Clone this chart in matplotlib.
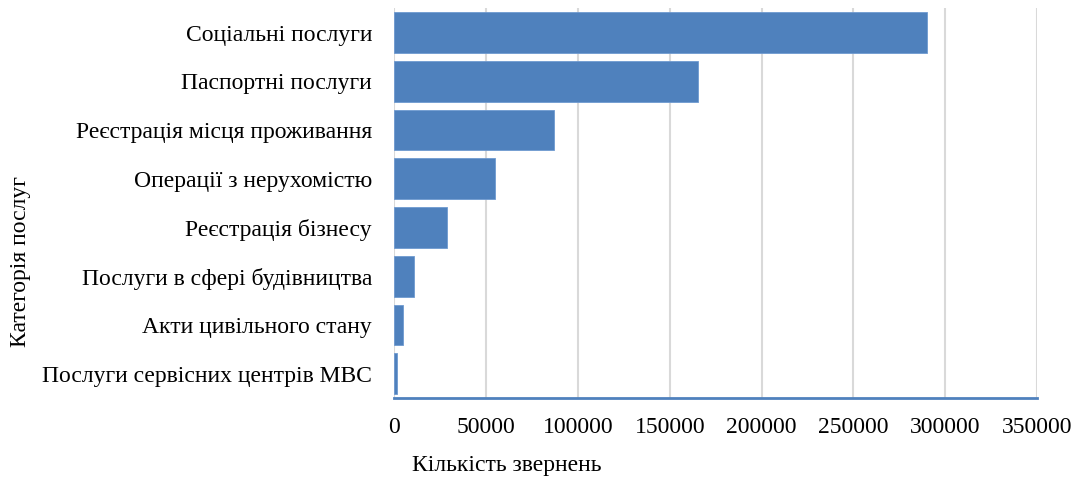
import matplotlib.pyplot as plt
import matplotlib

matplotlib.rcParams['font.family'] = 'Liberation Serif'

# Категорії послуг та кількість звернень
categories = ['Соціальні послуги', 'Паспортні послуги', 'Реєстрація місця проживання',
              'Операції з нерухомістю', 'Реєстрація бізнесу', 'Послуги в сфері будівництва',
              'Акти цивільного стану', 'Послуги сервісних центрів МВС']
values = [290100, 165500, 86800, 54800, 28700, 10500, 4600, 1300]
xticks = [0, 50000, 100000, 150000, 200000, 250000, 300000, 350000]

fig = plt.figure(figsize=(10.76, 4.79), dpi=100)
ax = fig.add_axes([394.3 / 1076, 1 - 398 / 479, (1037 - 394.3) / 1076, (398 - 8.3) / 479])

pos = list(range(len(categories)))
ax.barh(pos, values, height=0.835, color='#4f81bd', edgecolor='#6f9ad0', linewidth=0.6, zorder=3)
ax.set_ylim(len(categories) - 0.5, -0.5)
ax.set_yticks(pos)
ax.set_yticklabels(categories, fontsize=17)
ax.set_xlim(0, 350000)
ax.set_xticks(xticks)
ax.set_xticklabels([str(t) for t in xticks], fontsize=17)
ax.tick_params(axis='both', length=0)
ax.tick_params(axis='y', pad=16)
ax.tick_params(axis='x', pad=14)

# Сітка та осі
ax.grid(axis='x', color='#d9d9d9', linewidth=1.5, zorder=0)
for s in ['top', 'right', 'left']:
    ax.spines[s].set_visible(False)
ax.spines['bottom'].set_color('#4f81bd')
ax.spines['bottom'].set_linewidth(2)
ax.spines['bottom'].set_zorder(4)

fig.text(507 / 1076, 1 - 465 / 479, 'Кількість звернень', fontsize=17, ha='center', va='center')
fig.text(21 / 1076, 1 - 262 / 479, 'Категорія послуг', fontsize=17, ha='center', va='center', rotation=90)

plt.savefig('out.png', dpi=100)
